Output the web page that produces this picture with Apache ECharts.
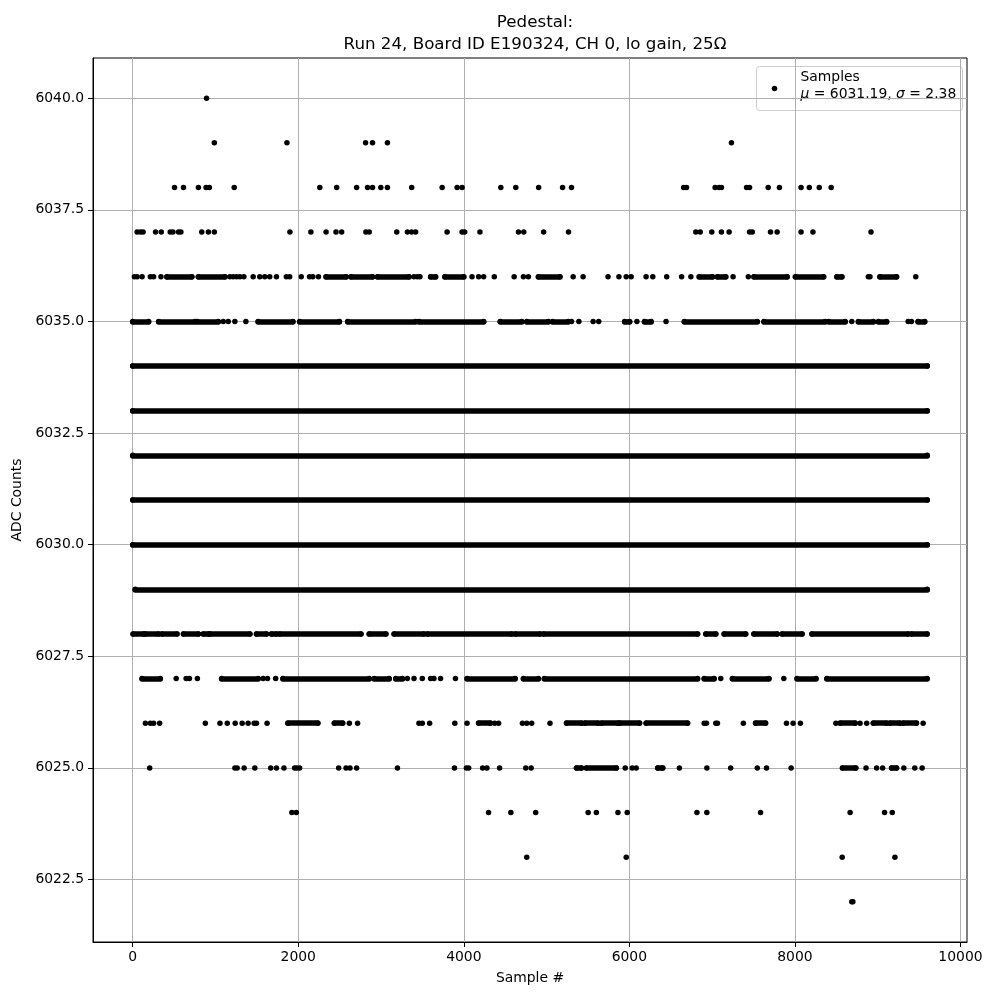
<!DOCTYPE html>
<html><head><meta charset="utf-8">
<script src="https://cdn.jsdelivr.net/npm/echarts@6/dist/echarts.min.js"></script>
<style>html,body{margin:0;padding:0;background:#fff}#c{width:1000px;height:1000px}</style>
</head><body><div id="c"></div>
<script>
// ---- data (sample index per ADC level; [a,b] = dense run of samples) ----
const nSamples = 9600;
const titleLines = ['Pedestal:', 'Run 24, Board ID E190324, CH 0, lo gain, 25Ω'];
const seriesName = 'Samples';
const meanVal = '6031.19';
const sigmaVal = '2.38';
const xTicks = [0, 2000, 4000, 6000, 8000, 10000];
const yTicks = [6022.5, 6025.0, 6027.5, 6030.0, 6032.5, 6035.0, 6037.5, 6040.0];

const lvl6040 = [892];
const lvl6039 = [986, 1863, 2813, 2897, 3077, 7233];
const lvl6038 = [505, 613, 793, 886, 926, 1226, 2260, 2464, 2705, 2837, 2897, 2997, 3077, 3370, 3738, 3919, 3979, 4447, 4628, 4904, 5193, 5301, 6656, 6690, 7036, 7085, 7112, 7416, 7452, 7677, 7813, 8074, 8174, 8294, 8438];
const lvl6037 = [53, 93, 125, 276, 345, 453, 486, 553, 582, 834, 914, 986, 1899, 2152, 2336, 2456, 2524, 2817, 2857, 3190, 3318, 3370, 3418, 3798, 3979, 4011, 4195, 4660, 4724, 4964, 5265, 6803, 6856, 6996, 7112, 7205, 7452, 7485, 7705, 7785, 8074, 8218, 8919];
const lvl6036 = [20, 53, 113, 213, 252, 341, [413, 714], [793, 1114], 1174, 1214, 1255, 1295, 1343, 1455, 1535, 1595, 1655, 1736, 1856, 1896, 2036, 2136, 2176, 2244, [2336, 2577], [2637, 2897], [2957, 3338], 3398, 3438, 3470, [3599, 3659], [3771, 3999], 4099, 4179, 4240, 4368, 4608, 4720, 4780, [4901, 5161], 5321, 5441, 5742, 5874, 5962, 6022, 6202, 6283, 6451, 6631, 6743, [6844, 7004], [7064, 7164], 7253, 7437, [7505, 7906], [8006, 8347], [8507, 8567], 8887, 8907, [9027, 9228], 9460];
const lvl6035 = [[0, 192], [313, 754], [781, 1034], 1094, 1154, 1234, 1367, [1515, 1935], [2016, 2497], [2597, 3418], [3458, 4240], [4440, 4700], [4760, 5021], [5072, 5261], 5301, 5390, 5562, 5630, [5943, 6003], 6091, [6183, 6263], 6443, [6664, 7545], [7626, 8366], [8407, 8607], 8687, [8767, 8948], [9008, 9108], 9368, 9408, [9488, 9568]];
const lvl6034 = [[0, 9599]];
const lvl6033 = [[0, 9599]];
const lvl6032 = [[0, 9599]];
const lvl6031 = [[0, 9599]];
const lvl6030 = [[0, 9599]];
const lvl6029 = [[30, 9599]];
const lvl6028 = [[5, 132], [153, 313], [353, 534], [613, 793], [853, 914], [934, 1415], [1495, 1615], [1676, 1736], [1775, 2757], [2857, 3058], [3158, 3518], [3558, 4580], [4620, 4921], [4961, 6824], [6924, 7044], [7145, 7405], [7505, 7785], [7845, 8086], [8206, 9368], [9408, 9597]];
const lvl6027 = [[113, 333], 525, 645, 685, 781, [1074, 1515], 1575, 1628, 1727, [1815, 2857], [2917, 3098], [3178, 3258], 3318, 3398, 3498, 3599, 3639, 3719, 3899, [4039, 4620], [4720, 4901], [4973, 6824], [6904, 7024], 7104, [7245, 7686], 7866, [8026, 8254], [8386, 9597]];
const lvl6026 = [153, 213, 252, 325, 877, 1054, 1142, 1238, 1322, 1394, 1467, 1495, 1623, [1875, 2236], [2436, 2536], 2617, 2717, 3458, 3498, 3587, 3891, 4039, [4179, 4320], 4372, 4420, 4708, 4760, 4820, 5041, [5241, 5422], [5462, 5622], [5662, 5862], [5882, 6123], [6203, 6703], 6904, 6932, 7044, 7064, 7377, [7525, 7645], 7898, 7978, 8066, 8495, [8547, 8727], 8787, 8867, [8947, 9108], [9148, 9268], [9308, 9468], 9549];
const lvl6025 = [205, 1234, 1262, 1346, 1475, 1667, 1736, 1827, 1956, 1983, 2016, 2488, 2577, 2625, 2705, 3198, 3887, 4031, 4059, 4227, 4279, 4432, 4748, 4813, [5361, 5421], [5481, 5842], 5950, 6034, 6082, [6343, 6403], 6604, 6936, 7224, 7545, 7657, 7954, [8575, 8735], 8859, 8987, 9060, [9168, 9228], 9316, 9448, 9537];
const lvl6024 = [1923, 1976, 4299, 4568, 4868, 5502, 5601, 5862, 5974, 6816, 6936, 7585, 8667, 9083, 9176];
const lvl6023 = [4760, 5962, 8571, 9208];
const lvl6022 = [8687, 8700];

const levelData = {
  6022: lvl6022, 6023: lvl6023, 6024: lvl6024, 6025: lvl6025, 6026: lvl6026,
  6027: lvl6027, 6028: lvl6028, 6029: lvl6029, 6030: lvl6030, 6031: lvl6031,
  6032: lvl6032, 6033: lvl6033, 6034: lvl6034, 6035: lvl6035, 6036: lvl6036,
  6037: lvl6037, 6038: lvl6038, 6039: lvl6039, 6040: lvl6040
};

// ---- build series data ----
const points = [];
const runs = [];
let yLo = Infinity, yHi = -Infinity;
Object.keys(levelData).forEach(k => {
  const y = Number(k);
  yLo = Math.min(yLo, y); yHi = Math.max(yHi, y);
  levelData[k].forEach(e => {
    if (Array.isArray(e)) {
      runs.push({ coords: [[e[0], y], [e[1], y]] });
      points.push([e[0], y], [e[1], y]);
    } else {
      points.push([e, y]);
    }
  });
});
const xPad = (nSamples - 1) * 0.05;
const yPad = (yHi - yLo) * 0.05;

const FONT = 'DejaVu Sans';
const chart = echarts.init(document.getElementById('c'), null, { renderer: 'canvas' });
chart.setOption({
  animation: false,
  backgroundColor: '#fff',
  title: {
    text: titleLines.join('\n'),
    left: 530, top: 7, textAlign: 'center',
    textStyle: { fontFamily: FONT, fontSize: 16.7, fontWeight: 'normal', color: '#000', lineHeight: 22 }
  },
  grid: { left: 93, right: 33, top: 58, bottom: 58, show: true, borderColor: '#000', borderWidth: 1, backgroundColor: 'transparent' },
  xAxis: {
    type: 'value', min: -xPad, max: (nSamples - 1) + xPad,
    name: 'Sample #', nameLocation: 'middle', nameGap: 29,
    nameTextStyle: { fontFamily: FONT, fontSize: 13.9, color: '#000' },
    axisLine: { show: true, onZero: false, lineStyle: { color: '#000', width: 1 } },
    axisTick: { show: true, inside: false, length: 5, lineStyle: { color: '#000' }, customValues: xTicks },
    axisLabel: { fontFamily: FONT, fontSize: 13.9, color: '#000', margin: 8, customValues: xTicks, formatter: v => String(v) },
    splitLine: { show: true, lineStyle: { color: '#b0b0b0', width: 1 } }
  },
  yAxis: {
    type: 'value', min: yLo - yPad, max: yHi + yPad,
    name: 'ADC Counts', nameLocation: 'middle', nameGap: 66,
    nameTextStyle: { fontFamily: FONT, fontSize: 13.9, color: '#000' },
    axisLine: { show: true, onZero: false, lineStyle: { color: '#000', width: 1 } },
    axisTick: { show: true, inside: false, length: 5, lineStyle: { color: '#000' }, customValues: yTicks },
    axisLabel: { fontFamily: FONT, fontSize: 13.9, color: '#000', margin: 9, customValues: yTicks, formatter: v => Number(v).toFixed(1) },
    splitLine: { show: true, lineStyle: { color: '#b0b0b0', width: 1 } }
  },
  series: [
    {
      type: 'lines', coordinateSystem: 'cartesian2d', silent: true, z: 3,
      polyline: false,
      lineStyle: { color: '#000', width: 5.5, opacity: 1, cap: 'round', curveness: 0 },
      data: runs
    },
    {
      type: 'scatter', name: seriesName, symbol: 'circle', symbolSize: 5.5, z: 4,
      itemStyle: { color: '#000', opacity: 1 },
      data: points
    }
  ],
  graphic: [
    {
      type: 'group', left: 756, top: 66, z: 100,
      children: [
        { type: 'rect', shape: { x: 0, y: 0, width: 206, height: 44, r: 3 },
          style: { fill: 'rgba(255,255,255,0.8)', stroke: '#cccccc', lineWidth: 1 } },
        { type: 'circle', shape: { cx: 18, cy: 22, r: 2.75 }, style: { fill: '#000' } },
        { type: 'text', x: 44, y: 4,
          style: { text: seriesName, font: '13.9px "DejaVu Sans"', fill: '#000' } },
        { type: 'text', x: 44, y: 21,
          style: {
            text: '{i|μ} = ' + meanVal + ', {i|σ} = ' + sigmaVal,
            font: '13.9px "DejaVu Sans"', fill: '#000',
            rich: { i: { fontStyle: 'italic', fontFamily: FONT, fontSize: 13.9 } }
          } }
      ]
    }
  ]
});
</script>
</body></html>
